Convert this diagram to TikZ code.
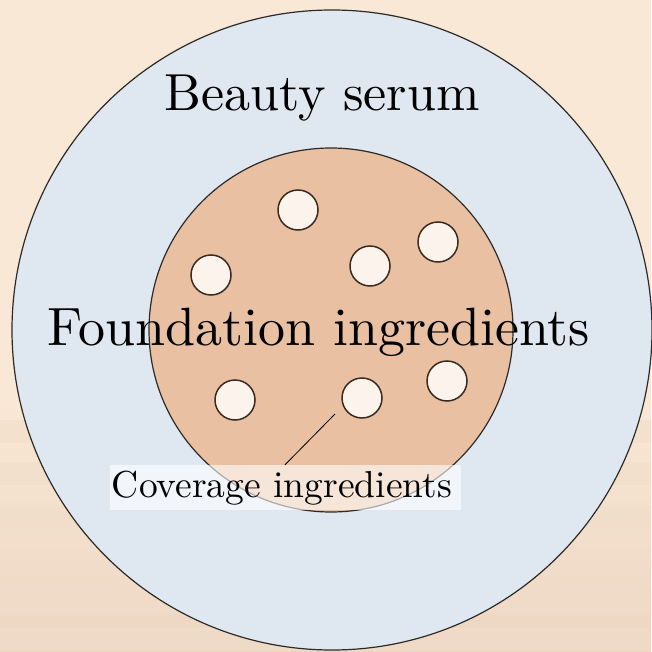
\documentclass[tikz,border=0pt]{standalone}
\usepackage{graphicx}
\definecolor{bgtop}{RGB}{249,232,213}
\definecolor{bgbot}{RGB}{236,214,194}
\definecolor{bgband}{RGB}{246,230,214}
\definecolor{serum}{RGB}{223,232,240}
\definecolor{found}{RGB}{233,192,161}
\definecolor{pearl}{RGB}{251,243,236}
\definecolor{edge}{RGB}{45,42,40}
\definecolor{pearledge}{RGB}{58,42,32}
\tikzset{
  ring/.style={circle, draw=edge, line width=1.2pt, inner sep=0pt},
  pearlc/.style={circle, draw=pearledge, fill=pearl, line width=1.5pt, inner sep=0pt, minimum size=40pt},
  bigtext/.style={anchor=base, inner sep=0pt, text=black},
}
\begin{document}
\begin{tikzpicture}[x=1pt, y=-1pt]
\useasboundingbox (0,0) rectangle (651,652);
\fill[bgtop] (0,0) rectangle (651,400);
\shade[top color=bgtop, bottom color=bgbot] (0,400) rectangle (651,652);
\foreach \yy in {420, 462, 505, 548, 590, 628}{
  \shade[top color=bgbot!60!bgtop, middle color=bgband, bottom color=bgbot!60!bgtop, opacity=0.6] (0,\yy) rectangle (651,\yy+22);
}
\node[ring, fill=serum, minimum size=640pt] (outer) at (332,330) {};
\node[ring, fill=found, minimum size=364pt] (inner) at (331,330) {};
\node[pearlc] (p1) at (298,210) {};
\node[pearlc] (p2) at (438,242) {};
\node[pearlc] (p3) at (370,266) {};
\node[pearlc] (p4) at (211,275) {};
\node[pearlc] (p5) at (235,400) {};
\node[pearlc] (p6) at (362,398) {};
\node[pearlc] (p7) at (447,381) {};
\node[bigtext] (serumlabel) at (322,111) {\resizebox{315pt}{!}{Beauty serum}};
\node[bigtext] (foundlabel) at (319,345) {\resizebox{542pt}{!}{Foundation ingredients}};
\node[fill=white, fill opacity=0.6, inner sep=0pt, minimum width=351pt, minimum height=45pt] (cov) at (285,487.5) {};
\node[bigtext] (covlabel) at (282,497) {\resizebox{340pt}{!}{Coverage ingredients}};
\coordinate (lstart) at (335,414);
\draw[black, line width=0.8pt] (lstart) -- (cov.north);
\end{tikzpicture}
\end{document}
